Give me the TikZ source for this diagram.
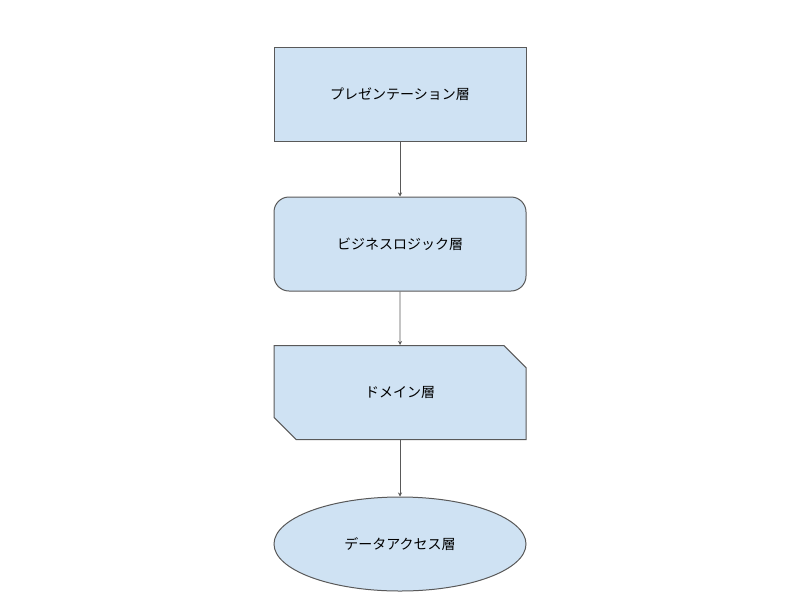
\documentclass[tikz,border=0pt]{standalone}
\usepackage{fontspec}
\newfontfamily\cjk{Noto Sans CJK JP}
\usetikzlibrary{shapes.geometric,shapes.misc,arrows.meta}
\definecolor{layer}{HTML}{CFE2F3}
\definecolor{edge}{HTML}{595959}
\tikzset{presbox/.style={black,draw=edge,fill=layer,rectangle,line width=1pt,minimum width=252pt,minimum height=94pt,inner sep=0pt}}
\tikzset{logicbox/.style={black,draw=edge,fill=layer,rectangle,rounded corners=15pt,line width=1pt,minimum width=252pt,minimum height=94pt,inner sep=0pt}}
\tikzset{domainbox/.style={black,draw=edge,fill=layer,chamfered rectangle,chamfered rectangle corners={north east,south west},chamfered rectangle xsep=16pt,chamfered rectangle ysep=16pt,line width=1pt,minimum width=252pt,minimum height=94pt,inner sep=0pt}}
\tikzset{accessbox/.style={black,draw=edge,fill=layer,ellipse,line width=1pt,minimum width=252pt,minimum height=94pt,inner sep=0pt}}
\tikzset{conn/.style={draw=edge,line width=0.8pt,-{Stealth[length=4pt,width=4pt]}}}
\begin{document}
\begin{tikzpicture}[x=1pt,y=-1pt]
                \useasboundingbox (0,0) rectangle (800,600);
                \node[presbox] (presentation) at (400, 94) {\cjk\fontsize{14}{16}\selectfont プレゼンテーション層};
                \node[logicbox] (business) at (400, 244) {\cjk\fontsize{14}{16}\selectfont ビジネスロジック層};
                \node[domainbox] (domain) at (400, 392.5) {\cjk\fontsize{14}{16}\selectfont ドメイン層};
                \node[accessbox] (dataaccess) at (400, 544) {\cjk\fontsize{14}{16}\selectfont データアクセス層};
                \draw[conn] (presentation) -- (business);
                \draw[conn] (business) -- (domain);
                \draw[conn] (domain) -- (dataaccess);
                \end{tikzpicture}
\end{document}
